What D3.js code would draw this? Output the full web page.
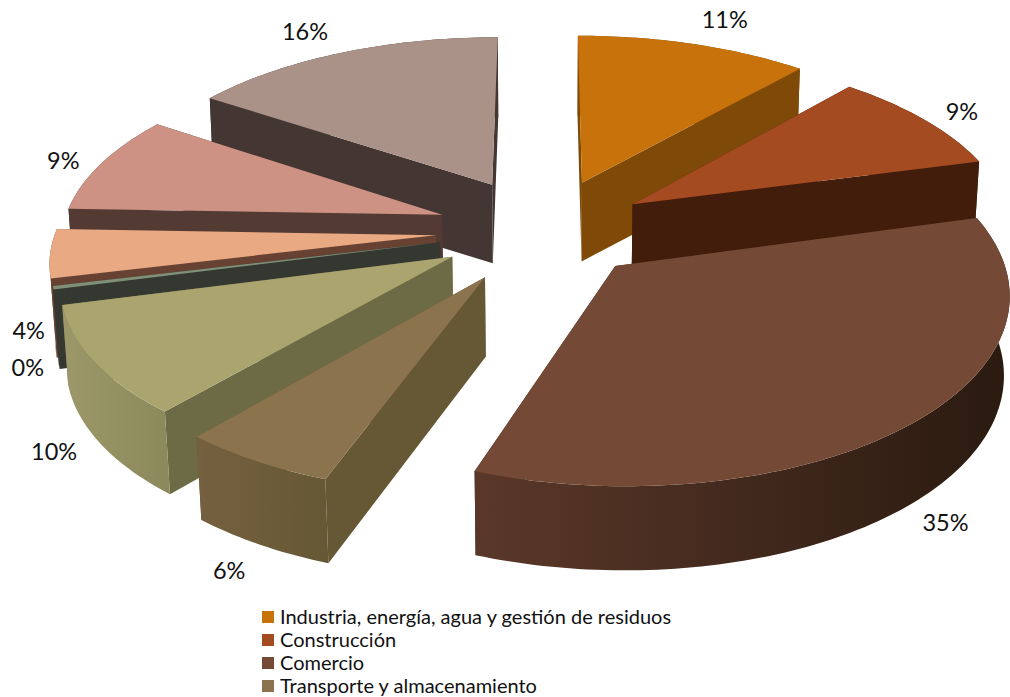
<!DOCTYPE html>
<html><head><meta charset="utf-8">
<script src="https://cdn.jsdelivr.net/npm/d3@7"></script>
<style>html,body{margin:0;padding:0;background:#fff;overflow:hidden}svg{display:block}text{font-family:Lato,"Open Sans",sans-serif;fill:#111}</style>
</head><body><svg id="c" width="1010" height="697"></svg>
<script>
const categories=["Industria, energía, agua y gestión de residuos","Construcción","Comercio","Transporte y almacenamiento","Otros servicios A","Otros servicios B","Otros servicios C","Otros servicios D","Otros servicios E"];
const values=[11.4,9.43,34.67,5.7,9.7,0.3,4.35,8.89,15.56];
const labels=["11%","9%","35%","6%","10%","0%","4%","9%","16%"];
const legendShown=4;
const topColors=["#C8720C","#A54B22","#744A36","#8A734D","#AAA56F","#7F8F78","#E9A983","#CD9283","#AA9289"];
const wallColors=["#7F4A08","#431D0C","#452A1C","#665835","#6D6B45","#343830","#674232","#533B34","#443633"];
const outerFrom=["#7F4A08","#431D0C","#5A3829","#75603F","#9C9869","#343830","#674232","#533B34","#443633"];
const outerTo=["#7F4A08","#431D0C","#2A1A10","#665835","#8C895C","#343830","#674232","#533B34","#443633"];
const explodeBy=[0.295,0.28,0.27,0.3,0.28,0.28,0.285,0.285,0.3];
const radiusY=[1,1,1.03,1,1,1,1,1,1];
const drawOrder=[8,0,7,1,6,5,4,3,2];
const labelShift=[[19,-10],[5,1],[-3,2],[0,0],[0,-6],[16,-6],[19,-4],[1,3],[-20,-8]];

const view={cx:544,cy:230,A:380,B:176.5,k:0.125,m:0.012,H:78,k2:0.09};
const svg=d3.select("#c");
const defs=svg.append("defs");
const colorTop=d3.scaleOrdinal(categories,topColors);
const colorWall=d3.scaleOrdinal(categories,wallColors);
const pie=d3.pie().sort(null).value(d=>d.v);
const arcs=pie(categories.map((c,i)=>({c,i,v:values[i]})));

function proj(X,Y,Z){
  const w=1+view.k*Y-view.m*Z;
  return [view.cx+view.A*X/w, view.cy-view.B*Y/w-view.H*Z/(1+view.k2*Math.min(Y,0))];
}
const line=d3.line();
function sliceGeom(a,idx){
  const mid=(a.startAngle+a.endAngle)/2, e=explodeBy[idx];
  const ox=e*Math.sin(mid), oy=e*Math.cos(mid);
  const n=Math.max(2,Math.ceil((a.endAngle-a.startAngle)/0.02));
  const pts=d3.range(n+1).map(i=>{
    const t=a.startAngle+(a.endAngle-a.startAngle)*i/n;
    return [ox+Math.sin(t),oy+radiusY[idx]*Math.cos(t)];
  });
  return {mid,ox,oy,pts};
}
const g=svg.append("g");
drawOrder.forEach(idx=>{
  const a=arcs[idx], s=sliceGeom(a,idx), cat=categories[idx];
  const top=p=>proj(p[0],p[1],0), bot=p=>proj(p[0],p[1],-1);
  const apex=[s.ox,s.oy];
  const first=s.pts[0], last=s.pts[s.pts.length-1];
  [first,last].forEach(e=>{
    g.append("path").attr("d",line([top(apex),top(e),bot(e),bot(apex)])+"Z")
     .attr("fill",colorWall(cat));
  });
  const tp=s.pts.map(top), bp=s.pts.map(bot).reverse();
  const xs=tp.map(d=>d[0]);
  const gid="g"+idx;
  const lg=defs.append("linearGradient").attr("id",gid).attr("gradientUnits","userSpaceOnUse")
    .attr("x1",d3.min(xs)).attr("x2",d3.max(xs)).attr("y1",0).attr("y2",0);
  lg.append("stop").attr("offset",0).attr("stop-color",outerFrom[idx]);
  lg.append("stop").attr("offset",1).attr("stop-color",outerTo[idx]);
  g.append("path").attr("d",line(tp.concat(bp))+"Z").attr("fill",`url(#${gid})`);
  g.append("path").attr("d",line([top(apex)].concat(tp))+"Z").attr("fill",colorTop(cat));
});
arcs.forEach((a,i)=>{
  const s=sliceGeom(a,i);
  const p=proj(s.ox+1.12*Math.sin(s.mid),s.oy+1.12*Math.cos(s.mid),s.oy<0?-1:0);
  g.append("text").attr("x",p[0]+labelShift[i][0]).attr("y",p[1]+labelShift[i][1])
   .attr("text-anchor","middle").attr("dominant-baseline","central").attr("font-size",23.5).text(labels[i]);
});
const yL=d3.scalePoint().domain(categories.slice(0,legendShown)).range([617,686]);
const leg=svg.append("g");
categories.slice(0,legendShown).forEach(c=>{
  leg.append("rect").attr("x",262).attr("y",yL(c)-6).attr("width",12).attr("height",12).attr("fill",colorTop(c));
  leg.append("text").attr("x",280).attr("y",yL(c)-1).attr("dominant-baseline","central").attr("font-size",20).text(c);
});
</script></body></html>
